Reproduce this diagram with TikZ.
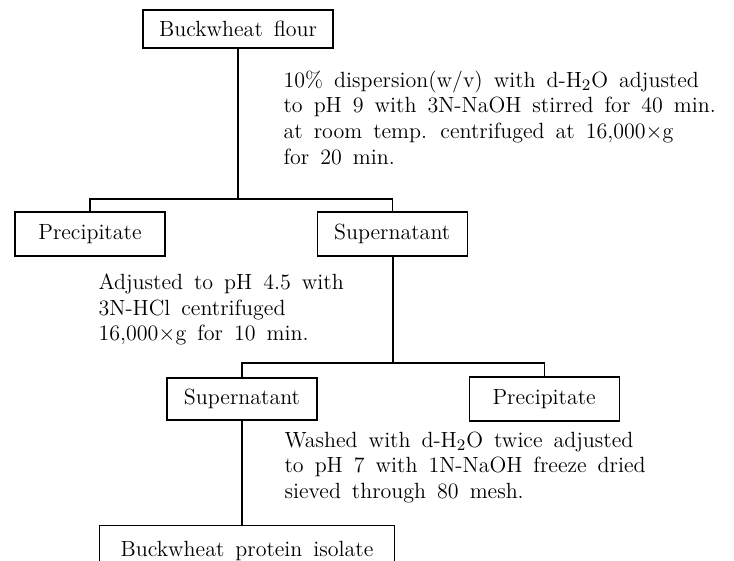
\documentclass[tikz,border=0pt]{standalone}
\usetikzlibrary{positioning}

\newcommand{\stepfont}{\fontsize{11}{12.85}\selectfont\spaceskip=0.5em plus 0.1em}

\begin{document}
\begin{tikzpicture}[x=0.5pt,y=-0.5pt,line width=0.6pt]
  \tikzset{block/.style= {draw, rectangle, align=center, font=\stepfont,
      minimum width=75pt, minimum height=22pt, inner sep=2pt},
    note/.style= {align=left, anchor=north west, inner sep=0pt, font=\stepfont}}
  \useasboundingbox (0,0) rectangle (734,561);
  \clip (0,0) rectangle (734,561);
  % boxes
  \node[block, minimum width=95pt, minimum height=19pt] (flour) at (238,29) {Buckwheat flour};
  \node[block] (prec1) at (90,234) {Precipitate};
  \node[block, right=75.5pt of prec1] (sup1) {Supernatant};
  \node[block, minimum height=21pt] (sup2) at (242,399) {Supernatant};
  \node[block, right=75.5pt of sup2] (prec2) {Precipitate};
  \node[block, anchor=north, minimum width=147.5pt, minimum height=25pt] (isolate) at (247,525)
    {Buckwheat protein isolate};
  % treatment notes
  \node[note] (note1) at (283,70) {10\% dispersion(w/v) with d-H$_2$O adjusted\\
    to pH 9 with 3N-NaOH stirred for 40 min.\\
    at room temp. centrifuged at 16,000$\times$g\\
    for 20 min.};
  \node[note] (note2) at (98,273) {Adjusted to pH 4.5 with\\
    3N-HCl centrifuged\\
    16,000$\times$g for 10 min.};
  \node[note] (note3) at (284,431) {Washed with d-H$_2$O twice adjusted\\
    to pH 7 with 1N-NaOH freeze dried\\
    sieved through 80 mesh.};
  % junctions
  \coordinate (split1) at (238,199);
  \coordinate (split2) at (393,363);
  \draw (flour) -- (split1);
  \draw (prec1.north) |- (split1) -| (sup1.north);
  \draw (sup1.south -| split2) -- (split2);
  \draw (sup2.north) |- (split2) -| (prec2.north);
  \draw (sup2.south) -- (sup2.south |- isolate.north);
\end{tikzpicture}
\end{document}
